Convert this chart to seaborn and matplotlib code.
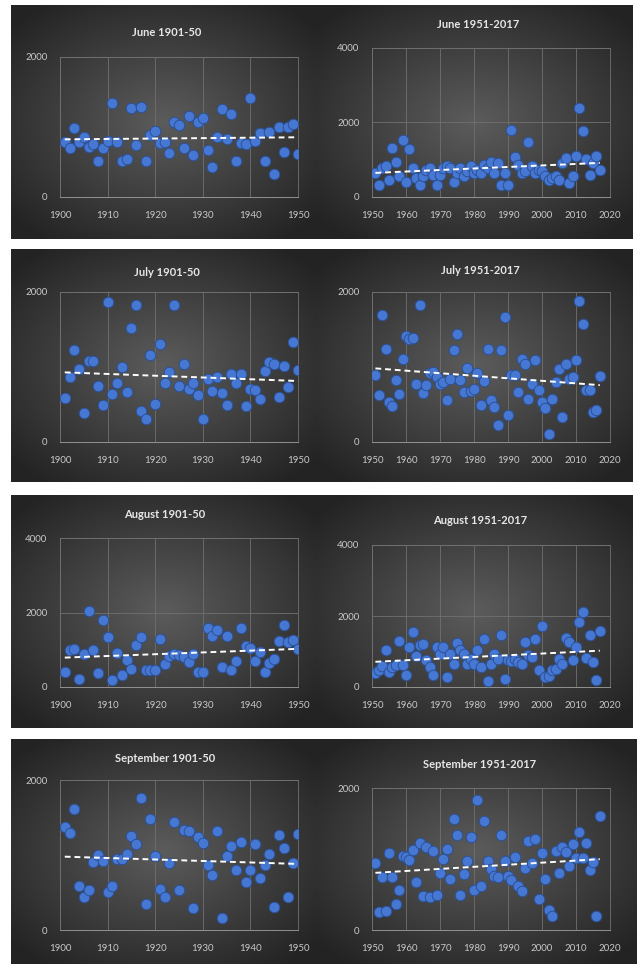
import numpy as np
import pandas as pd
import matplotlib
matplotlib.use("Agg")
import matplotlib.pyplot as plt
import seaborn as sns

# ---------------- data ----------------
years_1901_50 = list(range(1901, 1951))
years_1951_2017 = list(range(1951, 2018))

june_1901_50 = [791, 706, 981, 791, 862, 720, 758, 521, 706, 801,
                1346, 791, 521, 540, 1275, 744, 1280, 521, 886, 943,
                777, 791, 626, 1076, 1028, 697, 1161, 602, 1076, 1123,
                673, 427, 862, 1251, 825, 1185, 521, 768, 758, 1408,
                801, 910, 521, 924, 332, 1005, 649, 1005, 1038, 616]
june_1951_2017 = [640, 330, 780, 820, 463, 1310, 927, 552, 1532, 392,
                  1283, 775, 508, 330, 552, 730, 775, 597, 330, 597,
                  775, 820, 775, 392, 641, 775, 552, 686, 820, 641,
                  713, 641, 864, 775, 953, 641, 909, 330, 641, 330,
                  1800, 1087, 864, 641, 686, 1488, 820, 641, 730, 686,
                  552, 463, 508, 552, 463, 909, 1042, 374, 552, 1105,
                  2397, 1773, 1016, 597, 909, 1105, 713]
july_1901_50 = [591, 867, 1222, 978, 391, 1080, 1080, 747, 489, 1867,
                644, 791, 1000, 667, 1520, 1831, 413, 311, 1164, 511,
                1311, 791, 933, 1831, 747, 1036, 702, 791, 622, 311,
                844, 680, 867, 658, 498, 911, 791, 911, 480, 711,
                689, 578, 942, 1067, 1044, 600, 1013, 733, 1333, 956]
july_1951_2017 = [889, 622, 1689, 1244, 533, 480, 831, 644, 1102, 1413,
                  1369, 1387, 778, 1831, 653, 764, 920, 933, 867, 778,
                  800, 556, 844, 1231, 1444, 822, 667, 991, 676, 702,
                  920, 498, 809, 1244, 556, 467, 231, 1222, 1667, 356,
                  889, 889, 667, 1111, 1036, 569, 778, 1089, 689, 533,
                  453, 102, 569, 800, 978, 333, 1044, 836, 867, 1089,
                  1876, 1569, 689, 689, 400, 422, 880]
august_1901_50 = [403, 985, 1029, 224, 895, 2040, 1002, 376, 1790, 1342,
                  197, 913, 331, 716, 492, 1118, 1342, 447, 447, 447,
                  1298, 626, 823, 877, 850, 805, 671, 895, 403, 403,
                  1593, 1369, 1539, 537, 1369, 447, 698, 1593, 1092, 1056,
                  698, 940, 403, 653, 761, 1235, 1656, 1208, 1271, 1029]
august_1951_2017 = [395, 470, 593, 1035, 423, 564, 612, 1299, 612, 348,
                    1129, 1553, 875, 1176, 1204, 772, 564, 348, 1129, 941,
                    1129, 282, 941, 640, 1242, 1035, 922, 659, 800, 659,
                    1035, 564, 1364, 160, 640, 922, 800, 1459, 235, 753,
                    734, 800, 706, 659, 1270, 894, 847, 1346, 470, 1713,
                    282, 301, 470, 517, 800, 659, 1393, 1270, 772, 1129,
                    1835, 2117, 828, 1459, 706, 207, 1581]
september_1901_50 = [1378, 1298, 1613, 587, 444, 533, 911, 1000, 920, 511,
                     591, 942, 942, 1009, 1258, 1151, 1764, 342, 1480, 987,
                     547, 444, 889, 1444, 533, 1333, 1320, 298, 1240, 1164,
                     867, 733, 1324, 156, 991, 1124, 800, 1169, 636, 800,
                     1151, 689, 867, 1009, 311, 1267, 1089, 444, 889, 1276]
september_1951_2017 = [941, 249, 753, 268, 1082, 753, 362, 565, 1049, 1035,
                       988, 1129, 673, 1224, 485, 1176, 461, 1106, 494, 800,
                       1002, 1139, 720, 1567, 1341, 494, 786, 965, 1308, 565,
                       1835, 626, 1529, 965, 861, 767, 753, 1341, 965, 767,
                       706, 1035, 626, 555, 880, 1256, 941, 1285, 433, 1082,
                       720, 282, 202, 1106, 809, 1162, 1096, 908, 1209, 1012,
                       1374, 1012, 1224, 847, 951, 202, 1600]

titles = ["June 1901-50", "June 1951-2017", "July 1901-50", "July 1951-2017",
          "August 1901-50", "August 1951-2017", "September 1901-50", "September 1951-2017"]
series = [(years_1901_50, june_1901_50), (years_1951_2017, june_1951_2017),
          (years_1901_50, july_1901_50), (years_1951_2017, july_1951_2017),
          (years_1901_50, august_1901_50), (years_1951_2017, august_1951_2017),
          (years_1901_50, september_1901_50), (years_1951_2017, september_1951_2017)]
y_max = [2000, 4000, 2000, 2000, 4000, 4000, 2000, 2000]

# ---------------- layout (pixels) ----------------
W, H = 637, 964
panel_boxes = [(11, 5, 316, 239), (316, 5, 633, 239),
               (11, 249, 316, 482), (316, 249, 633, 482),
               (11, 495, 316, 728), (316, 495, 633, 728),
               (11, 739, 316, 964), (316, 739, 637, 964)]
axes_boxes = [(60, 57, 298, 197), (372, 48, 610, 197),
              (60, 292, 298, 442), (372, 292, 610, 442),
              (60, 538, 298, 687), (372, 545, 610, 687),
              (60, 780, 298, 930), (372, 788, 610, 930)]
title_pos = [(167, 32), (478, 25), (167, 272), (480, 271),
             (165, 515), (480, 521), (165, 758), (480, 764)]

sns.set_style("dark")
plt.rcParams['font.family'] = ['Lato', 'DejaVu Sans']

fig = plt.figure(figsize=(W / 100, H / 100), dpi=100)
fig.patch.set_facecolor('white')


def frac(box):
    x0, y0, x1, y1 = box
    return [x0 / W, 1 - y1 / H, (x1 - x0) / W, (y1 - y0) / H]


# radial gradient background
gy, gx = np.mgrid[-1:1:240j, -1:1:320j]
r = np.clip(np.sqrt((gx * 0.95) ** 2 + (gy * 1.0) ** 2) / 1.25, 0, 1)
val = 0.36 * (1 - r) + 0.14 * r
grad = np.dstack([val, val, val])

for i in range(8):
    bg = fig.add_axes(frac(panel_boxes[i]), zorder=0)
    bg.imshow(grad, aspect='auto', extent=[0, 1, 0, 1], interpolation='bilinear')
    bg.set_axis_off()

    ax = fig.add_axes(frac(axes_boxes[i]), zorder=1)
    ax.set_facecolor('none')
    yrs, vals = series[i]
    df = pd.DataFrame({"year": yrs, "value": vals})
    sns.regplot(data=df, x="year", y="value", ax=ax, scatter=False, ci=None,
                truncate=True,
                line_kws=dict(color='white', ls=(0, (3, 2)), lw=1.4, zorder=4))
    sns.scatterplot(data=df, x="year", y="value", ax=ax, s=58,
                    color='#4677d3', edgecolor='#2c5196', linewidth=0.7, zorder=3)
    if yrs[0] < 1950:
        ax.set_xlim(1900, 1950)
        ax.set_xticks([1900, 1910, 1920, 1930, 1940, 1950])
    else:
        ax.set_xlim(1950, 2020)
        ax.set_xticks([1950, 1960, 1970, 1980, 1990, 2000, 2010, 2020])
    ax.set_ylim(0, y_max[i])
    ax.set_yticks(list(range(0, y_max[i] + 1, 2000)))
    ax.set_xlabel("")
    ax.set_ylabel("")
    ax.grid(True, color='#707070', lw=0.6)
    ax.set_axisbelow(True)
    for s in ax.spines.values():
        s.set_color('#707070')
        s.set_linewidth(0.6)
    ax.spines['bottom'].set_color('#a0a0a0')
    ax.tick_params(axis='both', length=0, colors='#c8c8c8', labelsize=7)
    ax.tick_params(axis='x', pad=10)
    ax.tick_params(axis='y', pad=9)
    tx, ty = title_pos[i]
    fig.text(tx / W, 1 - ty / H, titles[i], ha='center', va='center',
             color='#e6e6e6', fontsize=8, fontweight='bold')

fig.savefig("out.png", dpi=100, facecolor='white')
